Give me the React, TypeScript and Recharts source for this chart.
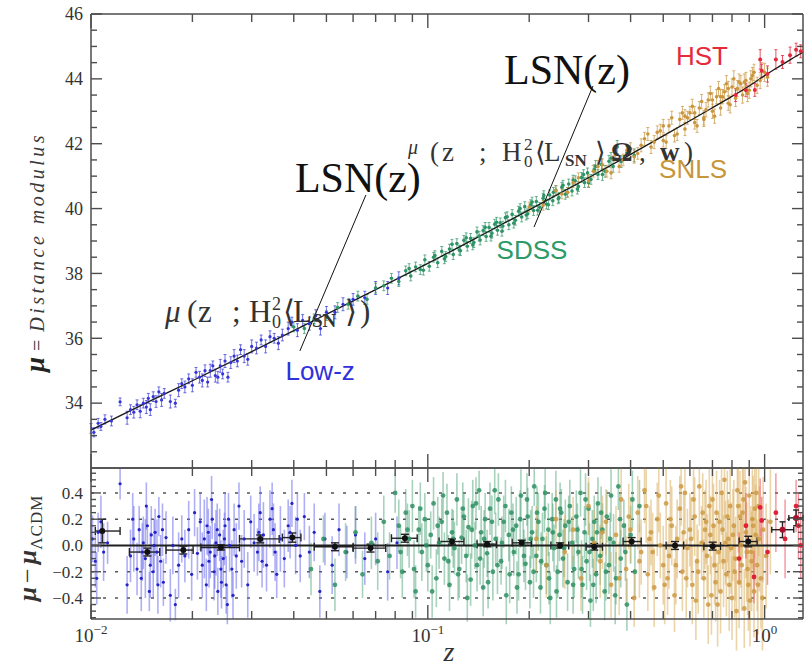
import {
  ComposedChart,
  Scatter,
  Line,
  XAxis,
  YAxis,
  ErrorBar,
  ReferenceLine,
  ReferenceDot,
} from 'recharts';

// ── Hubble diagram (top) + residuals vs ΛCDM (bottom) ──

type Pt = [number, number, number]; // z, value, 1σ error
type Bin = [number, number, number, number, number]; // z, value, zLow, zHigh, 1σ error

const SERIF = '"Liberation Serif", "DejaVu Serif", "Times New Roman", serif';
const SANS = '"Liberation Sans", Arial, Helvetica, sans-serif';
const AXIS = '#4d4d4d';

const Z_DOMAIN: [number, number] = [0.01, 1.3];
const MU_DOMAIN: [number, number] = [32, 46];
const RES_DOMAIN: [number, number] = [-0.56, 0.59];

const Z_TICKS = [0.01, 0.02, 0.03, 0.04, 0.05, 0.06, 0.07, 0.08, 0.09, 0.1, 0.2, 0.3, 0.4, 0.5, 0.6, 0.7, 0.8, 0.9, 1];
const MU_TICKS = [
  32.5, 33, 33.5, 34, 34.5, 35, 35.5, 36, 36.5, 37, 37.5, 38, 38.5, 39, 39.5, 40, 40.5, 41, 41.5, 42, 42.5, 43,
  43.5, 44, 44.5, 45, 45.5, 46,
];
const RES_TICKS = [
  -0.55, -0.5, -0.45, -0.4, -0.35, -0.3, -0.25, -0.2, -0.15, -0.1, -0.05, 0, 0.05, 0.1, 0.15, 0.2, 0.25, 0.3,
  0.35, 0.4, 0.45, 0.5, 0.55,
];
const RES_GRID = [-0.4, -0.2, 0.2, 0.4];

// best-fit curve
const MODEL_Z = [0.01, 0.015, 0.02, 0.03, 0.05, 0.07, 0.1, 0.15, 0.2, 0.3, 0.4, 0.5, 0.6, 0.7, 0.8, 0.9, 1.0, 1.1, 1.2, 1.3];
const MODEL_MU = [33.17, 34.07, 34.69, 35.59, 36.74, 37.5, 38.31, 39.27, 39.96, 40.95, 41.67, 42.24, 42.71, 43.11, 43.46, 43.78, 44.1, 44.37, 44.61, 44.82];

// ── Hubble diagram points ──
const LOWZ_MU: Pt[] = [
  [0.01, 33.22, 0.15], [0.0102, 33.1, 0.14], [0.0105, 33.38, 0.15], [0.0107, 33.28, 0.12], [0.011, 33.5, 0.14],
  [0.0115, 33.45, 0.15], [0.0122, 34.04, 0.12], [0.0128, 33.55, 0.2], [0.0131, 33.8, 0.15], [0.0134, 33.72, 0.18],
  [0.0137, 33.95, 0.15], [0.014, 33.75, 0.2], [0.0143, 34.0, 0.15], [0.0146, 33.88, 0.2], [0.0148, 34.15, 0.15],
  [0.015, 33.8, 0.18], [0.0153, 34.2, 0.15], [0.0156, 34.05, 0.18], [0.0159, 34.35, 0.15], [0.0162, 34.1, 0.2],
  [0.0165, 34.3, 0.15], [0.0172, 34.05, 0.2], [0.0178, 34.0, 0.12], [0.0182, 34.4, 0.2], [0.0186, 34.6, 0.15],
  [0.019, 34.5, 0.18], [0.0195, 34.75, 0.15], [0.02, 34.55, 0.2], [0.0205, 34.95, 0.15], [0.021, 34.8, 0.18],
  [0.0214, 34.7, 0.2], [0.0218, 35.0, 0.18], [0.0222, 34.65, 0.15], [0.0226, 35.0, 0.2], [0.023, 35.15, 0.15],
  [0.0234, 34.85, 0.2], [0.0238, 34.8, 0.18], [0.0242, 35.15, 0.2], [0.0246, 34.9, 0.15], [0.025, 35.3, 0.2],
  [0.0255, 34.8, 0.15], [0.026, 35.25, 0.18], [0.0266, 35.45, 0.2], [0.0272, 35.3, 0.18], [0.0278, 35.65, 0.15],
  [0.0285, 35.45, 0.2], [0.0292, 35.35, 0.18], [0.03, 35.75, 0.2], [0.031, 35.7, 0.18], [0.032, 35.95, 0.15],
  [0.033, 35.75, 0.2], [0.034, 36.05, 0.18], [0.035, 36.0, 0.15], [0.036, 35.85, 0.2], [0.037, 36.1, 0.18],
  [0.0385, 36.3, 0.2], [0.0395, 36.5, 0.15], [0.041, 36.25, 0.2], [0.0425, 36.55, 0.18], [0.0445, 36.45, 0.2],
  [0.0465, 36.7, 0.18], [0.048, 36.3, 0.2], [0.05, 36.8, 0.18], [0.053, 36.8, 0.2], [0.056, 37.05, 0.2],
  [0.06, 37.2, 0.18], [0.065, 37.25, 0.2], [0.07, 37.55, 0.2], [0.076, 37.55, 0.2], [0.082, 37.85, 0.2],
];

const SDSS_MU: Pt[] = [
  [0.04, 36.35, 0.15], [0.043, 36.3, 0.15], [0.046, 36.6, 0.15], [0.05, 36.7, 0.15], [0.054, 36.95, 0.15],
  [0.058, 37.05, 0.15], [0.062, 37.3, 0.15], [0.066, 37.2, 0.15], [0.07, 37.55, 0.15], [0.074, 37.62, 0.15],
  [0.078, 37.85, 0.15], [0.082, 37.75, 0.15], [0.086, 38.08, 0.15], [0.088, 38.15, 0.15], [0.089, 37.92, 0.15],
  [0.092, 38.2, 0.15], [0.095, 38.12, 0.15], [0.097, 38.1, 0.15], [0.098, 38.42, 0.15], [0.101, 38.22, 0.15],
  [0.104, 38.5, 0.15], [0.105, 38.55, 0.15], [0.107, 38.33, 0.15], [0.11, 38.68, 0.15], [0.112, 38.45, 0.15],
  [0.113, 38.52, 0.15], [0.116, 38.75, 0.15], [0.118, 38.9, 0.15], [0.119, 38.58, 0.15], [0.122, 38.92, 0.15],
  [0.124, 38.72, 0.15], [0.125, 38.7, 0.15], [0.128, 39.02, 0.15], [0.13, 39.1, 0.15], [0.131, 38.84, 0.15],
  [0.134, 39.08, 0.15], [0.136, 38.88, 0.15], [0.137, 38.95, 0.15], [0.14, 39.28, 0.15], [0.142, 39.15, 0.15],
  [0.143, 39.03, 0.15], [0.146, 39.32, 0.15], [0.148, 39.42, 0.15], [0.149, 39.14, 0.15], [0.152, 39.42, 0.15],
  [0.154, 39.15, 0.15], [0.155, 39.24, 0.15], [0.158, 39.52, 0.15], [0.16, 39.58, 0.15], [0.161, 39.33, 0.15],
  [0.164, 39.56, 0.15], [0.166, 39.3, 0.15], [0.167, 39.46, 0.15], [0.17, 39.72, 0.15], [0.172, 39.75, 0.15],
  [0.174, 39.5, 0.15], [0.178, 39.82, 0.15], [0.18, 39.55, 0.15], [0.182, 39.64, 0.15], [0.186, 39.92, 0.15],
  [0.188, 40.0, 0.15], [0.19, 39.74, 0.15], [0.194, 40.06, 0.15], [0.196, 39.8, 0.15], [0.198, 39.84, 0.15],
  [0.202, 40.12, 0.15], [0.204, 40.2, 0.15], [0.206, 39.94, 0.15], [0.21, 40.22, 0.15], [0.212, 39.95, 0.15],
  [0.215, 40.04, 0.15], [0.22, 40.32, 0.15], [0.221, 40.4, 0.15], [0.225, 40.14, 0.15], [0.228, 40.12, 0.15],
  [0.23, 40.42, 0.15], [0.235, 40.24, 0.15], [0.236, 40.5, 0.15], [0.24, 40.56, 0.15], [0.244, 40.3, 0.15],
  [0.245, 40.34, 0.15], [0.25, 40.66, 0.15], [0.252, 40.72, 0.15], [0.256, 40.44, 0.15], [0.26, 40.5, 0.15],
  [0.262, 40.76, 0.15], [0.268, 40.54, 0.15], [0.27, 40.88, 0.15], [0.274, 40.86, 0.15], [0.278, 40.6, 0.15],
  [0.28, 40.68, 0.15], [0.286, 40.96, 0.15], [0.29, 41.05, 0.15], [0.292, 40.8, 0.15], [0.298, 41.1, 0.15],
  [0.3, 40.8, 0.15], [0.305, 40.9, 0.15], [0.312, 41.2, 0.15], [0.315, 41.3, 0.18], [0.32, 41.05, 0.15],
  [0.328, 41.36, 0.18], [0.33, 41.05, 0.18], [0.336, 41.15, 0.18], [0.345, 41.46, 0.18], [0.35, 41.55, 0.18],
  [0.355, 41.3, 0.18], [0.365, 41.9, 0.2], [0.375, 41.45, 0.18], [0.39, 41.72, 0.2], [0.41, 41.64, 0.2],
];

const SNLS_MU: Pt[] = [
  [0.2, 40.05, 0.15], [0.22, 40.1, 0.15], [0.24, 40.55, 0.15], [0.25, 40.45, 0.15], [0.26, 40.5, 0.15],
  [0.27, 40.8, 0.15], [0.28, 40.95, 0.15], [0.3, 40.85, 0.18], [0.31, 41.15, 0.18], [0.32, 41.3, 0.18],
  [0.33, 41.35, 0.18], [0.34, 41.15, 0.18], [0.35, 41.1, 0.18], [0.36, 41.65, 0.18], [0.37, 41.3, 0.18],
  [0.38, 41.5, 0.18], [0.39, 41.8, 0.18], [0.4, 41.85, 0.18], [0.41, 41.6, 0.2], [0.42, 41.7, 0.18],
  [0.43, 41.95, 0.2], [0.44, 42.15, 0.2], [0.45, 42.3, 0.2], [0.46, 41.9, 0.2], [0.47, 42.05, 0.2],
  [0.48, 42.35, 0.2], [0.49, 42.4, 0.2], [0.5, 42.1, 0.2], [0.5, 42.55, 0.2], [0.51, 42.05, 0.2],
  [0.52, 42.55, 0.2], [0.53, 42.8, 0.2], [0.54, 42.25, 0.2], [0.55, 42.3, 0.2], [0.56, 42.75, 0.2],
  [0.57, 42.95, 0.2], [0.58, 42.45, 0.2], [0.58, 42.85, 0.2], [0.59, 42.8, 0.2], [0.6, 42.95, 0.2],
  [0.61, 43.15, 0.22], [0.62, 42.65, 0.2], [0.62, 42.95, 0.2], [0.63, 42.55, 0.2], [0.64, 43.1, 0.2],
  [0.65, 43.3, 0.22], [0.66, 42.8, 0.22], [0.66, 42.75, 0.22], [0.67, 43.05, 0.22], [0.68, 43.35, 0.22],
  [0.69, 43.55, 0.22], [0.7, 43.0, 0.22], [0.7, 43.35, 0.22], [0.71, 42.85, 0.22], [0.72, 43.45, 0.22],
  [0.73, 43.7, 0.22], [0.74, 43.1, 0.22], [0.74, 43.45, 0.22], [0.75, 43.45, 0.22], [0.76, 43.6, 0.22],
  [0.77, 43.85, 0.25], [0.78, 43.25, 0.22], [0.78, 43.7, 0.22], [0.79, 43.2, 0.25], [0.8, 43.75, 0.25],
  [0.81, 44.0, 0.25], [0.82, 43.4, 0.25], [0.83, 43.7, 0.25], [0.84, 43.9, 0.25], [0.85, 43.85, 0.25],
  [0.86, 43.5, 0.25], [0.87, 43.9, 0.25], [0.88, 43.95, 0.25], [0.89, 43.55, 0.25], [0.9, 43.65, 0.25],
  [0.91, 44.0, 0.25], [0.92, 44.1, 0.25], [0.93, 44.2, 0.25], [0.95, 43.8, 0.25], [0.97, 43.95, 0.25],
  [0.98, 44.25, 0.25], [1.0, 44.2, 0.28], [1.02, 44.05, 0.28],
];

const HST_MU: Pt[] = [
  [0.82, 43.5, 0.2], [0.88, 43.65, 0.2], [0.935, 43.66, 0.2], [0.97, 44.6, 0.3], [0.98, 44.25, 0.2],
  [1.02, 44.15, 0.25], [1.08, 44.6, 0.3], [1.13, 44.52, 0.2], [1.19, 44.73, 0.25], [1.24, 44.9, 0.2],
  [1.28, 44.85, 0.2],
];

// ── residuals μ − μΛCDM ──
const LOWZ_RES: Pt[] = [
  [0.0101, 0.05, 0.18], [0.0103, -0.12, 0.2], [0.0104, -0.25, 0.2], [0.0105, 0.1, 0.15], [0.0107, 0.18, 0.2],
  [0.0109, -0.05, 0.22], [0.0112, 0.02, 0.16], [0.0122, 0.47, 0.12], [0.0128, -0.3, 0.22], [0.0131, -0.08, 0.2],
  [0.0133, 0.2, 0.2], [0.0134, 0.05, 0.25], [0.0137, -0.18, 0.2], [0.0139, 0.12, 0.18], [0.0141, -0.25, 0.25],
  [0.0142, -0.05, 0.22], [0.0143, 0.02, 0.2], [0.0145, -0.1, 0.3], [0.0146, 0.3, 0.18], [0.0147, 0.15, 0.14],
  [0.0149, -0.35, 0.15], [0.015, -0.15, 0.25], [0.0151, 0.08, 0.22], [0.0153, -0.2, 0.2], [0.0154, 0.0, 0.2],
  [0.0155, 0.1, 0.18], [0.0157, -0.05, 0.25], [0.0158, -0.3, 0.22], [0.0159, 0.22, 0.15], [0.0161, -0.12, 0.2],
  [0.0163, 0.12, 0.2], [0.0164, -0.28, 0.18], [0.0167, 0.06, 0.2], [0.0172, -0.38, 0.2], [0.0175, 0.0, 0.22],
  [0.0178, -0.45, 0.12], [0.0182, -0.15, 0.25], [0.0186, 0.05, 0.18], [0.019, -0.08, 0.2], [0.0195, 0.12, 0.22],
  [0.0199, -0.22, 0.2], [0.0203, 0.25, 0.18], [0.0207, -0.06, 0.2], [0.0211, 0.18, 0.22], [0.0214, -0.15, 0.25],
  [0.0217, 0.05, 0.3], [0.022, -0.3, 0.2], [0.0221, 0.15, 0.22], [0.0223, 0.1, 0.18], [0.0224, -0.12, 0.2],
  [0.0226, -0.05, 0.2], [0.0228, 0.35, 0.18], [0.0229, 0.2, 0.15], [0.0232, -0.2, 0.22], [0.0233, -0.08, 0.25],
  [0.0235, 0.02, 0.25], [0.0237, 0.12, 0.2], [0.0238, -0.35, 0.18], [0.0241, 0.08, 0.2], [0.0243, -0.18, 0.22],
  [0.0244, -0.28, 0.2], [0.0247, -0.1, 0.22], [0.0249, 0.05, 0.2], [0.025, 0.15, 0.25], [0.0252, -0.3, 0.22],
  [0.0254, -0.45, 0.15], [0.0256, 0.2, 0.2], [0.0258, 0.0, 0.2], [0.0262, -0.18, 0.22], [0.0264, -0.38, 0.18],
  [0.0266, 0.12, 0.2], [0.027, -0.08, 0.25], [0.0275, 0.3, 0.18], [0.028, -0.12, 0.2], [0.0285, 0.05, 0.22],
  [0.0292, -0.3, 0.25], [0.0298, 0.18, 0.2], [0.0305, 0.02, 0.22], [0.0312, -0.05, 0.18], [0.0315, 0.1, 0.22],
  [0.0318, 0.25, 0.2], [0.0322, -0.12, 0.2], [0.0325, 0.08, 0.25], [0.0332, -0.15, 0.2], [0.034, 0.2, 0.22],
  [0.0345, 0.28, 0.2], [0.0348, 0.12, 0.2], [0.0352, -0.05, 0.22], [0.0356, -0.22, 0.18], [0.0365, 0.05, 0.25],
  [0.0375, -0.1, 0.22], [0.0385, 0.15, 0.2], [0.039, 0.1, 0.2], [0.0395, 0.32, 0.18], [0.0405, 0.0, 0.22],
  [0.041, 0.2, 0.2], [0.0418, -0.08, 0.2], [0.043, 0.22, 0.18], [0.0445, -0.05, 0.2], [0.046, 0.1, 0.22],
  [0.0478, -0.35, 0.2], [0.0495, 0.05, 0.2], [0.052, -0.15, 0.22], [0.0545, 0.12, 0.2], [0.0575, -0.05, 0.2],
  [0.061, 0.08, 0.22], [0.065, -0.1, 0.2], [0.07, 0.05, 0.2], [0.076, -0.2, 0.22], [0.081, 0.02, 0.2],
];

const SDSS_RES: Pt[] = [
  [0.045, -0.18, 0.2], [0.049, 0.05, 0.18], [0.053, -0.3, 0.2], [0.057, -0.05, 0.22], [0.061, 0.1, 0.2],
  [0.064, -0.22, 0.18], [0.068, 0.02, 0.2], [0.071, -0.12, 0.22], [0.074, 0.18, 0.2], [0.077, -0.08, 0.18],
  [0.08, 0.4, 0.15], [0.082, 0.15, 0.2], [0.083, -0.05, 0.2], [0.084, -0.2, 0.2], [0.086, 0.25, 0.18],
  [0.087, 0.12, 0.2], [0.088, 0.05, 0.22], [0.09, 0.3, 0.2], [0.091, -0.18, 0.22], [0.092, -0.35, 0.2],
  [0.094, 0.12, 0.18], [0.095, 0.28, 0.2], [0.096, -0.05, 0.22], [0.098, 0.2, 0.2], [0.099, 0.0, 0.2],
  [0.1, -0.15, 0.2], [0.102, 0.08, 0.18], [0.103, -0.35, 0.2], [0.104, 0.32, 0.2], [0.106, -0.25, 0.22],
  [0.107, 0.15, 0.22], [0.108, 0.02, 0.2], [0.11, 0.18, 0.18], [0.111, 0.38, 0.18], [0.112, -0.1, 0.2],
  [0.114, 0.25, 0.22], [0.115, -0.12, 0.2], [0.116, -0.3, 0.2], [0.118, 0.1, 0.18], [0.119, 0.05, 0.22],
  [0.12, -0.02, 0.2], [0.122, 0.35, 0.2], [0.123, -0.22, 0.2], [0.124, -0.18, 0.22], [0.126, 0.06, 0.2],
  [0.127, 0.28, 0.2], [0.128, 0.22, 0.18], [0.13, -0.08, 0.2], [0.131, -0.4, 0.18], [0.132, 0.14, 0.22],
  [0.134, -0.26, 0.2], [0.135, 0.12, 0.22], [0.136, 0.3, 0.2], [0.138, 0.0, 0.18], [0.139, 0.32, 0.2],
  [0.14, -0.15, 0.2], [0.142, 0.42, 0.15], [0.143, -0.1, 0.2], [0.144, 0.1, 0.2], [0.146, -0.32, 0.22],
  [0.147, 0.05, 0.22], [0.148, 0.2, 0.2], [0.15, -0.06, 0.18], [0.151, -0.28, 0.2], [0.153, 0.28, 0.2],
  [0.155, 0.18, 0.2], [0.156, -0.2, 0.22], [0.158, 0.42, 0.18], [0.159, 0.05, 0.2], [0.161, -0.15, 0.22],
  [0.162, 0.35, 0.2], [0.165, -0.12, 0.18], [0.166, 0.02, 0.2], [0.168, 0.18, 0.2], [0.17, 0.3, 0.2],
  [0.171, -0.38, 0.22], [0.174, 0.08, 0.2], [0.175, -0.22, 0.22], [0.177, 0.25, 0.2], [0.179, 0.12, 0.2],
  [0.18, -0.05, 0.18], [0.183, 0.15, 0.22], [0.184, -0.32, 0.2], [0.186, -0.22, 0.2], [0.188, 0.2, 0.22],
  [0.189, 0.38, 0.2], [0.192, 0.02, 0.18], [0.193, -0.08, 0.2], [0.195, -0.14, 0.2], [0.197, 0.35, 0.2],
  [0.198, 0.22, 0.22], [0.201, -0.28, 0.2], [0.202, 0.05, 0.22], [0.204, 0.1, 0.2], [0.206, -0.2, 0.2],
  [0.207, 0.45, 0.15], [0.21, -0.08, 0.2], [0.211, 0.25, 0.2], [0.213, 0.18, 0.22], [0.216, -0.32, 0.2],
  [0.217, -0.12, 0.22], [0.219, 0.05, 0.2], [0.222, 0.28, 0.18], [0.223, 0.4, 0.2], [0.225, -0.15, 0.22],
  [0.228, 0.12, 0.2], [0.229, -0.25, 0.2], [0.231, -0.4, 0.2], [0.234, 0.2, 0.2], [0.235, 0.1, 0.22],
  [0.237, -0.02, 0.18], [0.24, 0.35, 0.22], [0.241, -0.35, 0.2], [0.243, -0.2, 0.2], [0.246, 0.08, 0.2],
  [0.247, 0.28, 0.2], [0.249, 0.25, 0.18], [0.252, -0.1, 0.22], [0.254, -0.02, 0.22], [0.256, 0.15, 0.2],
  [0.26, -0.28, 0.22], [0.262, 0.18, 0.2], [0.264, 0.3, 0.2], [0.268, 0.02, 0.2], [0.27, -0.3, 0.22],
  [0.272, -0.18, 0.22], [0.276, 0.22, 0.2], [0.278, 0.12, 0.2], [0.28, -0.05, 0.2], [0.284, 0.4, 0.18],
  [0.286, -0.18, 0.22], [0.288, -0.3, 0.22], [0.292, 0.1, 0.2], [0.294, 0.35, 0.2], [0.296, -0.12, 0.22],
  [0.3, 0.28, 0.2], [0.302, -0.05, 0.22], [0.304, -0.42, 0.2], [0.308, 0.05, 0.22], [0.31, -0.3, 0.2],
  [0.312, 0.18, 0.2], [0.316, -0.22, 0.22], [0.318, 0.1, 0.22], [0.32, 0.32, 0.2], [0.325, -0.08, 0.22],
  [0.327, 0.25, 0.2], [0.33, 0.12, 0.2], [0.335, -0.35, 0.22], [0.338, -0.2, 0.22], [0.34, 0.22, 0.2],
  [0.345, -0.15, 0.22], [0.348, 0.05, 0.2], [0.35, 0.38, 0.2], [0.356, 0.02, 0.22], [0.36, -0.38, 0.22],
  [0.362, -0.25, 0.2], [0.368, 0.45, 0.18], [0.372, 0.2, 0.2], [0.374, -0.1, 0.22], [0.382, 0.15, 0.2],
  [0.386, -0.05, 0.22], [0.39, -0.45, 0.2], [0.4, 0.08, 0.22], [0.405, 0.35, 0.22], [0.412, -0.2, 0.2],
  [0.425, 0.3, 0.2],
];

const SNLS_RES: Pt[] = [
  [0.21, 0.05, 0.25], [0.225, -0.15, 0.25], [0.24, 0.2, 0.22], [0.255, -0.05, 0.28], [0.27, 0.12, 0.25],
  [0.285, -0.25, 0.25], [0.3, 0.3, 0.22], [0.312, 0.02, 0.25], [0.325, -0.12, 0.28], [0.33, 0.1, 0.28],
  [0.338, 0.18, 0.25], [0.35, -0.3, 0.25], [0.362, 0.08, 0.22], [0.37, -0.25, 0.28], [0.375, 0.35, 0.28],
  [0.388, -0.18, 0.25], [0.395, 0.22, 0.25], [0.4, 0.12, 0.25], [0.41, -0.4, 0.22], [0.42, 0.25, 0.28],
  [0.425, -0.12, 0.28], [0.43, -0.05, 0.25], [0.44, 0.42, 0.25], [0.445, 0.3, 0.28], [0.45, -0.22, 0.28],
  [0.455, 0.05, 0.25], [0.46, 0.1, 0.25], [0.465, -0.05, 0.3], [0.47, -0.32, 0.3], [0.48, 0.2, 0.28],
  [0.485, 0.38, 0.28], [0.49, 0.0, 0.25], [0.5, -0.15, 0.3], [0.505, -0.3, 0.3], [0.51, 0.32, 0.28],
  [0.515, -0.25, 0.28], [0.52, -0.08, 0.25], [0.525, 0.2, 0.3], [0.53, 0.15, 0.3], [0.54, -0.38, 0.28],
  [0.545, -0.15, 0.3], [0.55, 0.05, 0.3], [0.56, 0.28, 0.25], [0.565, 0.45, 0.3], [0.57, -0.2, 0.3],
  [0.575, 0.1, 0.3], [0.58, 0.4, 0.28], [0.585, -0.25, 0.3], [0.59, -0.02, 0.3], [0.6, 0.12, 0.28],
  [0.605, 0.05, 0.32], [0.61, -0.3, 0.3], [0.615, 0.35, 0.3], [0.62, 0.22, 0.3], [0.625, -0.42, 0.3],
  [0.63, -0.12, 0.28], [0.635, -0.2, 0.32], [0.64, 0.45, 0.3], [0.65, 0.02, 0.28], [0.655, 0.25, 0.3],
  [0.66, -0.25, 0.3], [0.665, 0.12, 0.3], [0.67, 0.18, 0.32], [0.675, -0.08, 0.32], [0.68, -0.45, 0.3],
  [0.685, 0.3, 0.3], [0.69, 0.08, 0.3], [0.695, -0.38, 0.3], [0.7, 0.35, 0.32], [0.705, 0.15, 0.32],
  [0.71, -0.15, 0.3], [0.715, -0.28, 0.3], [0.72, 0.25, 0.32], [0.725, -0.45, 0.32], [0.73, -0.05, 0.3],
  [0.735, 0.18, 0.32], [0.74, -0.35, 0.32], [0.745, 0.4, 0.32], [0.75, 0.12, 0.3], [0.755, -0.12, 0.35],
  [0.76, 0.5, 0.3], [0.765, 0.02, 0.32], [0.77, -0.22, 0.32], [0.775, 0.22, 0.35], [0.78, 0.05, 0.3],
  [0.785, -0.3, 0.35], [0.79, 0.3, 0.35], [0.795, -0.02, 0.35], [0.8, -0.4, 0.32], [0.805, 0.08, 0.35],
  [0.81, 0.15, 0.35], [0.815, -0.2, 0.35], [0.82, -0.1, 0.32], [0.825, -0.5, 0.3], [0.83, 0.42, 0.35],
  [0.835, 0.3, 0.35], [0.84, -0.28, 0.35], [0.845, 0.22, 0.35], [0.85, 0.0, 0.32], [0.855, -0.15, 0.35],
  [0.86, 0.25, 0.35], [0.865, 0.35, 0.35], [0.87, -0.48, 0.3], [0.875, 0.48, 0.32], [0.88, 0.1, 0.35],
  [0.885, -0.05, 0.38], [0.89, -0.18, 0.35], [0.895, -0.3, 0.35], [0.9, 0.38, 0.32], [0.905, -0.42, 0.35],
  [0.91, -0.05, 0.35], [0.915, -0.12, 0.38], [0.92, 0.2, 0.38], [0.925, 0.15, 0.38], [0.93, -0.35, 0.35],
  [0.935, 0.28, 0.38], [0.94, 0.08, 0.38], [0.945, 0.4, 0.38], [0.95, -0.15, 0.35], [0.955, -0.3, 0.38],
  [0.96, 0.3, 0.38], [0.965, 0.05, 0.4], [0.975, -0.25, 0.38], [0.985, -0.4, 0.4], [0.99, 0.12, 0.4],
  [1.01, -0.08, 0.4], [1.04, 0.18, 0.4],
];

const HST_RES: Pt[] = [
  [0.84, -0.1, 0.2], [0.88, 0.15, 0.25], [0.93, -0.24, 0.2], [0.97, 0.29, 0.22], [0.98, 0.19, 0.18],
  [1.02, -0.05, 0.25], [1.08, 0.25, 0.3], [1.15, 0.05, 0.3], [1.24, 0.3, 0.2], [1.26, 0.15, 0.25],
  [1.28, 0.0, 0.25],
];

// binned residuals
const BINS: Bin[] = [
  [0.0108, 0.11, 0.0103, 0.0122, 0.09], [0.0147, -0.05, 0.013, 0.016, 0.03], [0.0188, -0.035, 0.0167, 0.0201, 0.03],
  [0.0243, -0.015, 0.0212, 0.0276, 0.02], [0.0318, 0.05, 0.0276, 0.0362, 0.03], [0.0396, 0.06, 0.037, 0.042, 0.035],
  [0.053, -0.01, 0.046, 0.06, 0.03], [0.0676, -0.02, 0.06, 0.075, 0.03], [0.0855, 0.055, 0.078, 0.093, 0.03],
  [0.118, 0.03, 0.108, 0.128, 0.02], [0.15, 0.01, 0.14, 0.16, 0.02], [0.19, 0.02, 0.178, 0.203, 0.02],
  [0.247, 0.0, 0.232, 0.262, 0.02], [0.312, -0.01, 0.295, 0.33, 0.025], [0.403, 0.03, 0.38, 0.43, 0.03],
  [0.542, 0.0, 0.51, 0.575, 0.03], [0.701, -0.005, 0.66, 0.74, 0.03], [0.894, 0.03, 0.84, 0.95, 0.04],
];
const HST_BINS: Bin[] = [
  [1.13, 0.12, 1.05, 1.22, 0.06], [1.24, 0.21, 1.18, 1.3, 0.06],
];

const toRows = (pts: Pt[]) => pts.map(([z, y, err]) => ({ z, y, err }));
const toBins = (bins: Bin[]) => bins.map(([z, y, lo, hi, err]) => ({ z, y, err, zerr: [z - lo, hi - z] }));
const MODEL_ROWS = MODEL_Z.map((z, i) => ({ z, y: MODEL_MU[i] }));

const near = (a: number, b: number) => Math.abs(a - b) < 1e-6;
const isDecade = (v: number) => near(Math.log10(v), Math.round(Math.log10(v)));

type TickProps = { x: number; y: number; payload: { value: number } };

// inward-pointing ticks on the log z axis, decade labels as 10^n
function zTick(side: 'top' | 'bottom', withLabels: boolean) {
  return (p: TickProps) => {
    const v = p.payload.value;
    const major = isDecade(v);
    const len = major ? 14 : 8;
    const dir = side === 'bottom' ? -1 : 1;
    const exp = String(Math.round(Math.log10(v))).replace('-', '−');
    return (
      <g>
        <line x1={p.x} x2={p.x} y1={p.y} y2={p.y + dir * len} stroke={AXIS} strokeWidth={1.4} />
        {withLabels && major && (
          <text x={p.x} y={p.y + 23} textAnchor="middle" fontFamily={SERIF} fontSize={19} fill="#333">
            10
            <tspan dy={-8} fontSize={13}>
              {exp}
            </tspan>
          </text>
        )}
      </g>
    );
  };
}

function valueTick(
  side: 'left' | 'right',
  isMajor: (v: number) => boolean,
  fmt: ((v: number) => string) | null,
  majorLen: number,
  minorLen: number,
  fontSize: number,
) {
  return (p: TickProps) => {
    const v = p.payload.value;
    const major = isMajor(v);
    const dir = side === 'left' ? 1 : -1;
    return (
      <g>
        <line x1={p.x} x2={p.x + dir * (major ? majorLen : minorLen)} y1={p.y} y2={p.y} stroke={AXIS} strokeWidth={1.4} />
        {fmt && major && (
          <text x={p.x - 8} y={p.y} dy="0.35em" textAnchor="end" fontFamily={SERIF} fontSize={fontSize} fill="#333">
            {fmt(v)}
          </text>
        )}
      </g>
    );
  };
}

const muMajor = (v: number) => near(v / 2, Math.round(v / 2));
const resMajor = (v: number) => near(v / 0.2, Math.round(v / 0.2));
const resFmt = (v: number) => (near(v, 0) ? '0.0' : v.toFixed(1).replace('-', '−'));

const dot = (r: number, fill: string, opacity = 1) => (p: any) =>
  <circle cx={p.cx} cy={p.cy} r={r} fill={fill} fillOpacity={opacity} />;

// pieces of a formula: text, x offset, baseline shift, size, weight, style
type Piece = [string, number, number, number, string?, string?];

const FORMULA_LOW: Piece[] = [
  ['μ', 0, 0, 31, 'normal', 'italic'], ['(', 22, 0, 31], ['z', 33, 0, 31], [';', 67, 0, 31], ['H', 84, 0, 31],
  ['2', 107, -12, 18], ['0', 107, 6, 18], ['⟨', 118, 0, 31], ['L', 128, 0, 31], ['SN', 147, 5, 19, 'bold'],
  ['⟩', 180, 0, 31], [')', 195, 0, 31],
];
const FORMULA_HIGH: Piece[] = [
  ['μ', 0, -7, 20, 'normal', 'italic'], ['(', 22, 0, 27], ['z', 34, 0, 27], [';', 71, 0, 27], ['H', 94, 0, 27],
  ['2', 116, -11, 17], ['0', 116, 6, 17], ['⟨', 127, 0, 27], ['L', 136, 0, 27], ['SN', 157, 5, 17, 'bold'],
  ['⟩', 187, 0, 27], ['Ω', 203, 0, 27, 'bold'], [',', 231, 0, 27], ['w', 252, 0, 27, 'bold'], [')', 276, 0, 27],
];

const formula = (pieces: Piece[]) => (p: any) => (
  <text fill="#333" fontFamily={SERIF}>
    {pieces.map(([t, dx, dy, size, weight, style], i) => (
      <tspan key={i} x={p.cx + dx} y={p.cy + dy} fontSize={size} fontWeight={weight ?? 'normal'} fontStyle={style ?? 'normal'}>
        {t}
      </tspan>
    ))}
  </text>
);

const bigLabel = (text: string) => (p: any) => (
  <text x={p.cx} y={p.cy} textAnchor="middle" fontFamily={SERIF} fontSize={42} fill="#111">
    {text}
  </text>
);

const surveyLabel = (text: string, color: string) => (p: any) => (
  <text x={p.cx} y={p.cy} textAnchor="middle" fontFamily={SANS} fontSize={26} fill={color}>
    {text}
  </text>
);

const COLORS = {
  lowz: '#3434d8',
  sdss: '#2e9466',
  snls: '#c9963e',
  hst: '#e6283c',
};

export default function App() {
  const axisLine = { stroke: AXIS, strokeWidth: 1.5 };
  return (
    <div style={{ position: 'absolute', left: 0, top: 0, width: 812, height: 670, background: '#fff' }}>
      {/* Hubble diagram */}
      <div style={{ position: 'absolute', left: 0, top: 0 }}>
        <ComposedChart width={812} height={470} margin={{ top: 13, right: 8, bottom: 1, left: 31 }}>
          <XAxis
            dataKey="z"
            type="number"
            scale="log"
            domain={Z_DOMAIN}
            allowDataOverflow
            ticks={Z_TICKS}
            interval={0}
            height={1}
            tickSize={0}
            tickMargin={0}
            tickLine={false}
            axisLine={axisLine}
            tick={zTick('bottom', false)}
          />
          <XAxis
            xAxisId="top"
            orientation="top"
            dataKey="z"
            type="number"
            scale="log"
            domain={Z_DOMAIN}
            allowDataOverflow
            ticks={Z_TICKS}
            interval={0}
            height={1}
            tickSize={0}
            tickMargin={0}
            tickLine={false}
            axisLine={axisLine}
            tick={zTick('top', false)}
          />
          <YAxis
            dataKey="y"
            type="number"
            domain={MU_DOMAIN}
            allowDataOverflow
            ticks={MU_TICKS}
            interval={0}
            width={60}
            tickSize={0}
            tickMargin={0}
            tickLine={false}
            axisLine={axisLine}
            tick={valueTick('left', muMajor, (v) => String(v), 11, 6, 18)}
            label={{
              content: () => (
                <text transform="rotate(-90 44 252)" x={44} y={252} textAnchor="middle" fontFamily={SERIF} fontSize={20} fill="#3a3a3a">
                  <tspan fontSize={27} fontWeight="bold" fontStyle="italic" fill="#222">μ</tspan>
                  <tspan dx={6}>=</tspan>
                  <tspan dx={8} fontStyle="italic" letterSpacing={3.5}>Distance modulus</tspan>
                </text>
              ),
            }}
          />
          <YAxis
            yAxisId="r"
            orientation="right"
            type="number"
            domain={MU_DOMAIN}
            allowDataOverflow
            ticks={MU_TICKS}
            interval={0}
            width={1}
            tickSize={0}
            tickMargin={0}
            tickLine={false}
            axisLine={axisLine}
            tick={valueTick('right', muMajor, null, 11, 6, 18)}
          />

          <Scatter data={toRows(LOWZ_MU)} shape={dot(1.6, COLORS.lowz)} isAnimationActive={false}>
            <ErrorBar dataKey="err" direction="y" width={1.5} stroke={COLORS.lowz} strokeWidth={1} strokeOpacity={0.7} />
          </Scatter>
          <Scatter data={toRows(SDSS_MU)} shape={dot(1.8, COLORS.sdss)} isAnimationActive={false}>
            <ErrorBar dataKey="err" direction="y" width={1.5} stroke={COLORS.sdss} strokeWidth={1} strokeOpacity={0.7} />
          </Scatter>
          <Scatter data={toRows(SNLS_MU)} shape={dot(1.8, COLORS.snls)} isAnimationActive={false}>
            <ErrorBar dataKey="err" direction="y" width={1.5} stroke={COLORS.snls} strokeWidth={1} strokeOpacity={0.7} />
          </Scatter>
          <Scatter data={toRows(HST_MU)} shape={dot(2, COLORS.hst)} isAnimationActive={false}>
            <ErrorBar dataKey="err" direction="y" width={1.5} stroke={COLORS.hst} strokeWidth={1} strokeOpacity={0.8} />
          </Scatter>

          <Line
            data={MODEL_ROWS}
            dataKey="y"
            type="monotone"
            dot={false}
            activeDot={false}
            stroke="#1a1a1a"
            strokeWidth={1.3}
            isAnimationActive={false}
          />

          {/* pointer lines from the LSN(z) labels */}
          <ReferenceLine segment={[{ x: 0.0417, y: 35.61 }, { x: 0.0655, y: 40.42 }]} stroke="#111" strokeWidth={1} />
          <ReferenceLine segment={[{ x: 0.2067, y: 39.43 }, { x: 0.3093, y: 43.78 }]} stroke="#111" strokeWidth={1} />

          <ReferenceDot x={0.062} y={40.51} r={0} shape={bigLabel('LSN(z)')} />
          <ReferenceDot x={0.259} y={43.84} r={0} shape={bigLabel('LSN(z)')} />
          <ReferenceDot x={0.01659} y={36.5} r={0} shape={formula(FORMULA_LOW)} />
          <ReferenceDot x={0.0873} y={41.47} r={0} shape={formula(FORMULA_HIGH)} />
          <ReferenceDot x={0.0479} y={34.71} r={0} shape={surveyLabel('Low-z', '#3030dd')} />
          <ReferenceDot x={0.2039} y={38.45} r={0} shape={surveyLabel('SDSS', '#2e9a67')} />
          <ReferenceDot x={0.6131} y={40.94} r={0} shape={surveyLabel('SNLS', '#c8963a')} />
          <ReferenceDot x={0.6517} y={44.43} r={0} shape={surveyLabel('HST', '#e62a3a')} />
        </ComposedChart>
      </div>

      {/* residuals */}
      <div style={{ position: 'absolute', left: 0, top: 467 }}>
        <ComposedChart width={812} height={203} margin={{ top: 0, right: 8, bottom: 0, left: 31 }}>
          <XAxis
            dataKey="z"
            type="number"
            scale="log"
            domain={Z_DOMAIN}
            allowDataOverflow
            ticks={Z_TICKS}
            interval={0}
            height={51}
            tickSize={0}
            tickMargin={0}
            tickLine={false}
            axisLine={axisLine}
            tick={zTick('bottom', true)}
            label={{
              content: () => (
                <text x={449} y={194} textAnchor="middle" fontFamily={SERIF} fontSize={28} fontStyle="italic" fill="#333">
                  z
                </text>
              ),
            }}
          />
          <XAxis
            xAxisId="top"
            orientation="top"
            dataKey="z"
            type="number"
            scale="log"
            domain={Z_DOMAIN}
            allowDataOverflow
            ticks={Z_TICKS}
            interval={0}
            height={1}
            tickSize={0}
            tickMargin={0}
            tickLine={false}
            axisLine={axisLine}
            tick={zTick('top', false)}
          />
          <YAxis
            dataKey="y"
            type="number"
            domain={RES_DOMAIN}
            allowDataOverflow
            ticks={RES_TICKS}
            interval={0}
            width={60}
            tickSize={0}
            tickMargin={0}
            tickLine={false}
            axisLine={axisLine}
            tick={valueTick('left', resMajor, resFmt, 10, 5, 17)}
            label={{
              content: () => (
                <text transform="rotate(-90 36 81)" x={36} y={81} textAnchor="middle" fontFamily={SERIF} fontSize={26} fill="#333">
                  <tspan fontWeight="bold" fontStyle="italic">μ</tspan>
                  <tspan dx={4}>−</tspan>
                  <tspan dx={4} fontWeight="bold" fontStyle="italic">μ</tspan>
                  <tspan dy={6} fontSize={17} letterSpacing={1}>ΛCDM</tspan>
                </text>
              ),
            }}
          />
          <YAxis
            yAxisId="r"
            orientation="right"
            type="number"
            domain={RES_DOMAIN}
            allowDataOverflow
            ticks={RES_TICKS}
            interval={0}
            width={1}
            tickSize={0}
            tickMargin={0}
            tickLine={false}
            axisLine={axisLine}
            tick={valueTick('right', resMajor, null, 10, 5, 17)}
          />

          {RES_GRID.map((v) => (
            <ReferenceLine key={v} y={v} stroke="#555" strokeWidth={1.5} strokeDasharray="3 9" />
          ))}

          <Scatter data={toRows(LOWZ_RES)} shape={dot(1.6, '#2323c8')} isAnimationActive={false}>
            <ErrorBar dataKey="err" direction="y" width={0} stroke="#6e6eec" strokeWidth={1.6} strokeOpacity={0.55} />
          </Scatter>
          <Scatter data={toRows(SDSS_RES)} shape={dot(2.4, '#2f9163', 0.85)} isAnimationActive={false}>
            <ErrorBar dataKey="err" direction="y" width={0} stroke="#4fa67a" strokeWidth={1.6} strokeOpacity={0.5} />
          </Scatter>
          <Scatter data={toRows(SNLS_RES)} shape={dot(2.4, '#cc9a44', 0.85)} isAnimationActive={false}>
            <ErrorBar dataKey="err" direction="y" width={0} stroke="#dcb062" strokeWidth={1.6} strokeOpacity={0.55} />
          </Scatter>
          <Scatter data={toRows(HST_RES)} shape={dot(2.4, '#e02036')} isAnimationActive={false}>
            <ErrorBar dataKey="err" direction="y" width={0} stroke="#ee4a5c" strokeWidth={1.4} strokeOpacity={0.6} />
          </Scatter>

          <ReferenceLine y={0} stroke="#1f1f1f" strokeWidth={2} />

          <Scatter data={toBins(HST_BINS)} shape={dot(3, '#a8102c')} isAnimationActive={false}>
            <ErrorBar dataKey="zerr" direction="x" width={3} stroke="#222" strokeWidth={1.4} />
            <ErrorBar dataKey="err" direction="y" width={3} stroke="#222" strokeWidth={1.4} />
          </Scatter>
          <Scatter data={toBins(BINS)} shape={dot(3, '#111')} isAnimationActive={false}>
            <ErrorBar dataKey="zerr" direction="x" width={4} stroke="#222" strokeWidth={1.4} />
            <ErrorBar dataKey="err" direction="y" width={4} stroke="#222" strokeWidth={1.4} />
          </Scatter>
        </ComposedChart>
      </div>
    </div>
  );
}
